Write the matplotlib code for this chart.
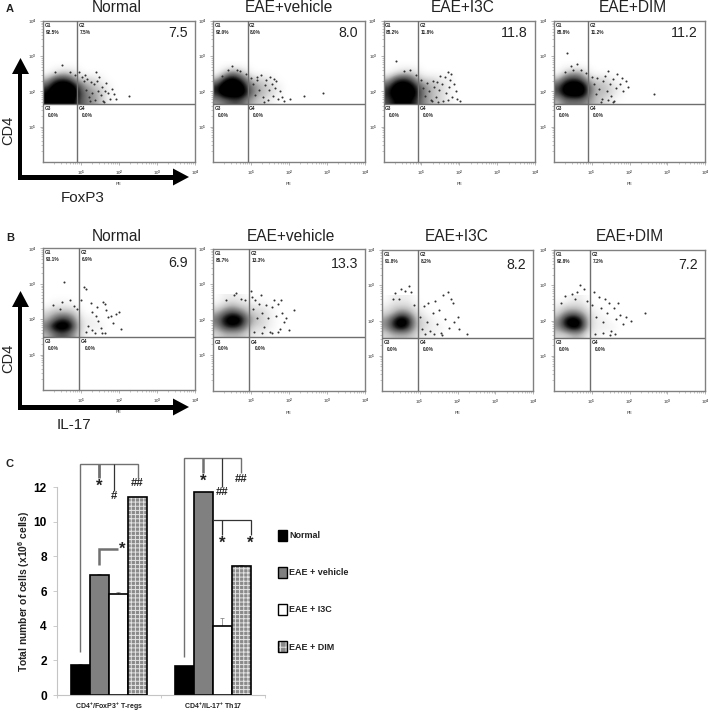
import matplotlib
matplotlib.use("Agg")
import matplotlib.pyplot as plt
from matplotlib.patches import Patch, Polygon, Rectangle
from matplotlib.legend_handler import HandlerTuple

plt.rcParams['font.family'] = ['Liberation Sans', 'DejaVu Sans']
plt.rcParams['mathtext.fontset'] = 'custom'
plt.rcParams['mathtext.bf'] = 'Liberation Sans:bold'
plt.rcParams['mathtext.rm'] = 'Liberation Sans:bold'
plt.rcParams['mathtext.default'] = 'bf'
plt.rcParams['hatch.linewidth'] = 0.7

W, H = 709, 712

# ---------- flow cytometry data ----------
panel_titles = ['Normal', 'EAE+vehicle', 'EAE+I3C', 'EAE+DIM']
a_big = ['7.5', '8.0', '11.8', '11.2']
a_g1 = ['92.5%', '92.0%', '88.2%', '88.8%']
a_g2 = ['7.5%', '8.0%', '11.8%', '11.2%']
b_big = ['6.9', '13.3', '8.2', '7.2']
b_g1 = ['93.1%', '86.7%', '91.8%', '92.8%']
b_g2 = ['6.9%', '13.3%', '8.2%', '7.2%']

# Darkness (0-10); rows bottom to top, columns 0.2 decade wide
a_normal_density = [[8, 9, 10, 9, 7, 5, 4, 3, 1, 0],
                    [8, 10, 10, 10, 8, 5, 4, 3, 1, 0],
                    [6, 9, 10, 10, 7, 4, 3, 2, 1, 0],
                    [3, 6, 7, 6, 3, 2, 2, 1, 0, 0],
                    [0, 1, 2, 2, 1, 0, 0, 0, 0, 0],
                    [0, 0, 0, 0, 0, 0, 0, 0, 0, 0]]
a_vehicle_density = [[4, 5, 6, 6, 4, 3, 2, 1, 0, 0],
                     [7, 10, 10, 10, 7, 4, 3, 2, 1, 0],
                     [7, 10, 10, 10, 6, 4, 3, 2, 1, 0],
                     [3, 7, 9, 7, 4, 2, 2, 1, 0, 0],
                     [0, 2, 4, 3, 1, 0, 0, 0, 0, 0],
                     [0, 0, 0, 0, 0, 0, 0, 0, 0, 0]]
a_i3c_density = [[6, 8, 9, 8, 6, 4, 3, 2, 1, 0],
                 [7, 10, 10, 10, 7, 4, 3, 2, 1, 0],
                 [6, 9, 10, 9, 6, 4, 3, 2, 1, 0],
                 [3, 6, 7, 6, 3, 2, 2, 1, 1, 0],
                 [0, 1, 2, 2, 1, 0, 0, 0, 0, 0],
                 [0, 0, 0, 0, 0, 0, 0, 0, 0, 0]]
a_dim_density = [[3, 5, 5, 5, 4, 3, 2, 1, 0, 0],
                 [6, 9, 10, 10, 6, 3, 3, 2, 1, 0],
                 [6, 9, 10, 10, 6, 3, 3, 2, 1, 0],
                 [3, 6, 7, 6, 3, 2, 2, 1, 0, 0],
                 [0, 2, 3, 3, 1, 0, 0, 0, 0, 0],
                 [0, 0, 0, 0, 0, 0, 0, 0, 0, 0]]
b_normal_density = [[3, 5, 6, 5, 3, 1, 0, 0, 0, 0],
                    [5, 9, 10, 9, 4, 1, 1, 1, 0, 0],
                    [3, 5, 7, 6, 3, 1, 1, 0, 0, 0],
                    [2, 3, 3, 3, 2, 0, 0, 0, 0, 0],
                    [0, 1, 1, 1, 0, 0, 0, 0, 0, 0],
                    [0, 0, 0, 0, 0, 0, 0, 0, 0, 0]]
b_vehicle_density = [[2, 3, 3, 3, 2, 1, 1, 0, 0, 0],
                     [4, 7, 8, 7, 4, 2, 2, 1, 0, 0],
                     [5, 8, 10, 9, 5, 3, 2, 1, 0, 0],
                     [3, 5, 6, 5, 3, 2, 2, 1, 0, 0],
                     [1, 2, 3, 2, 2, 1, 1, 0, 0, 0],
                     [0, 1, 1, 1, 0, 0, 0, 0, 0, 0]]
b_i3c_density = [[2, 3, 3, 3, 2, 1, 1, 0, 0, 0],
                 [4, 7, 9, 7, 3, 2, 1, 1, 0, 0],
                 [4, 7, 10, 8, 3, 2, 1, 0, 0, 0],
                 [2, 3, 5, 4, 2, 1, 0, 0, 0, 0],
                 [1, 2, 2, 2, 1, 0, 0, 0, 0, 0],
                 [0, 1, 1, 1, 0, 0, 0, 0, 0, 0]]
b_dim_density = [[2, 2, 3, 3, 1, 1, 0, 0, 0, 0],
                 [4, 7, 9, 8, 3, 1, 1, 1, 0, 0],
                 [4, 8, 10, 8, 3, 1, 1, 0, 0, 0],
                 [2, 4, 5, 4, 2, 1, 0, 0, 0, 0],
                 [1, 2, 2, 2, 1, 0, 0, 0, 0, 0],
                 [0, 0, 1, 1, 0, 0, 0, 0, 0, 0]]

# Individually visible events (x, y in log10 decades)
a_normal_x = [1.02, 1.08, 1.12, 1.17, 1.21, 1.26, 1.3, 1.33, 1.37, 1.41, 1.44, 1.47, 1.52, 1.55, 1.58, 1.62, 1.66, 1.71, 1.76, 1.82, 1.88, 1.93, 2.26, 0.95, 0.5, 0.72, 0.32, 0.84, 1.39, 1.6, 1.1, 1.23]
a_normal_y = [2.42, 2.3, 2.05, 2.35, 1.85, 2.28, 1.95, 2.2, 1.76, 2.3, 2.02, 2.4, 1.9, 2.12, 1.72, 2.02, 2.25, 1.95, 1.8, 2.08, 1.92, 1.78, 1.87, 2.55, 2.75, 2.55, 2.55, 2.46, 2.55, 1.7, 2.48, 1.72]
a_vehicle_x = [1.0, 1.06, 1.11, 1.16, 1.22, 1.27, 1.31, 1.36, 1.4, 1.44, 1.48, 1.51, 1.55, 1.58, 1.62, 1.66, 1.7, 1.76, 1.82, 1.87, 2.02, 2.4, 2.9, 0.5, 0.62, 0.4, 0.72, 0.88, 1.15, 0.25, 1.34, 1.6]
a_vehicle_y = [2.38, 2.2, 1.9, 2.33, 2.05, 2.48, 1.85, 2.18, 2.32, 1.75, 2.03, 2.4, 2.2, 1.88, 2.1, 2.3, 1.78, 2.0, 1.85, 1.72, 1.8, 1.88, 1.95, 2.72, 2.62, 2.6, 2.58, 2.5, 2.42, 2.45, 1.7, 2.36]
a_i3c_x = [1.0, 1.05, 1.1, 1.15, 1.2, 1.25, 1.3, 1.34, 1.38, 1.42, 1.46, 1.5, 1.55, 1.58, 1.62, 1.66, 1.7, 1.74, 1.78, 1.81, 1.86, 1.92, 1.95, 2.02, 0.33, 0.55, 0.7, 0.85, 1.28, 1.44, 1.69, 1.75]
a_i3c_y = [2.32, 2.1, 1.88, 2.25, 2.02, 1.76, 2.3, 2.12, 1.84, 2.28, 2.05, 2.45, 2.2, 1.74, 2.42, 1.96, 2.55, 2.14, 2.5, 1.84, 2.22, 2.02, 1.8, 1.72, 2.86, 2.58, 2.6, 2.46, 1.72, 1.7, 1.76, 2.32]
a_dim_x = [1.0, 1.05, 1.1, 1.15, 1.2, 1.26, 1.3, 1.35, 1.4, 1.44, 1.48, 1.52, 1.56, 1.6, 1.64, 1.68, 1.74, 1.79, 1.84, 1.9, 1.95, 2.66, 0.45, 0.62, 0.72, 0.5, 0.3, 0.85, 1.25, 1.42, 1.56, 0.35]
a_dim_y = [2.42, 2.2, 1.92, 2.38, 2.08, 1.78, 2.3, 2.45, 2.02, 2.58, 2.2, 1.86, 2.36, 1.72, 2.1, 2.5, 2.2, 2.38, 2.02, 2.3, 2.14, 1.94, 2.72, 2.78, 2.62, 2.6, 2.55, 2.52, 1.7, 1.75, 1.7, 3.1]
b_normal_x = [1.0, 1.08, 1.12, 1.18, 1.25, 1.3, 1.36, 1.42, 1.46, 1.52, 1.58, 1.62, 1.66, 1.72, 1.78, 1.84, 1.92, 2.05, 2.0, 0.55, 0.25, 0.5, 0.7, 0.82, 0.9, 0.45, 1.12, 1.28, 1.55, 1.64, 1.4]
b_normal_y = [2.55, 2.9, 2.85, 1.8, 2.45, 2.2, 1.6, 2.35, 1.95, 1.75, 2.5, 2.42, 2.25, 2.05, 2.1, 1.9, 2.15, 1.72, 2.2, 3.05, 2.4, 2.5, 2.55, 2.38, 2.3, 2.3, 1.65, 1.7, 1.62, 1.6, 2.1]
b_vehicle_x = [1.0, 1.05, 1.1, 1.15, 1.2, 1.25, 1.3, 1.35, 1.4, 1.45, 1.5, 1.55, 1.6, 1.65, 1.7, 1.75, 1.78, 1.82, 1.86, 1.92, 2.0, 2.12, 0.35, 0.55, 0.6, 0.75, 0.85, 1.02, 1.72, 1.3, 1.55, 1.08]
b_vehicle_y = [2.82, 2.3, 2.55, 2.05, 2.45, 2.7, 2.2, 1.8, 2.42, 2.05, 1.65, 2.35, 2.55, 2.1, 2.45, 1.75, 2.55, 2.2, 1.95, 2.05, 1.72, 2.28, 2.55, 2.7, 2.75, 2.6, 2.55, 2.65, 1.65, 1.62, 1.62, 1.65]
b_i3c_x = [1.0, 1.05, 1.1, 1.18, 1.22, 1.28, 1.34, 1.4, 1.46, 1.5, 1.56, 1.62, 1.68, 1.74, 1.78, 1.84, 1.88, 1.92, 2.0, 2.05, 2.25, 0.35, 0.5, 0.62, 0.72, 0.76, 0.3, 0.45, 0.85, 1.15, 1.38, 1.58]
b_i3c_y = [2.1, 1.75, 2.4, 1.95, 2.5, 1.7, 2.2, 2.55, 1.9, 2.3, 1.65, 2.72, 2.05, 2.8, 1.8, 2.6, 2.5, 1.95, 2.1, 1.75, 1.62, 2.78, 2.9, 2.85, 2.98, 2.8, 2.6, 2.62, 2.45, 1.62, 1.62, 1.6]
b_dim_x = [1.0, 1.05, 1.12, 1.18, 1.25, 1.3, 1.35, 1.4, 1.46, 1.52, 1.58, 1.64, 1.7, 1.76, 1.84, 1.92, 2.05, 2.4, 0.7, 0.8, 0.62, 0.48, 0.3, 0.55, 0.88, 1.08, 1.3, 1.48, 0.18, 1.62]
b_dim_y = [2.45, 2.8, 2.1, 2.68, 2.35, 1.95, 2.6, 2.2, 2.5, 1.7, 2.35, 2.05, 2.5, 2.15, 1.9, 2.1, 2.0, 2.2, 3.0, 2.9, 2.8, 2.75, 2.7, 2.62, 2.55, 1.62, 1.65, 1.6, 2.5, 1.62]

# Pixel boxes (left, top, right, bottom) and gates
a_boxes = [(43, 21, 195, 162), (213, 21, 365, 162), (383.5, 21, 535, 162), (554, 21, 705, 162)]
b_boxes = [(43, 248.5, 195, 390), (213, 249, 365, 390.5), (382, 250, 533, 391), (554, 250, 705, 391)]
a_vline = [0.895, 0.91, 0.91, 0.895]
b_vline = [0.96, 0.95, 0.95, 0.95]
a_hline = [1.645] * 4
b_hline = [1.5] * 4
a_title_x = [117, 289, 463, 633]
b_title_x = [117, 291, 457, 630]

a_density = [a_normal_density, a_vehicle_density, a_i3c_density, a_dim_density]
b_density = [b_normal_density, b_vehicle_density, b_i3c_density, b_dim_density]
a_dots = [(a_normal_x, a_normal_y), (a_vehicle_x, a_vehicle_y), (a_i3c_x, a_i3c_y), (a_dim_x, a_dim_y)]
b_dots = [(b_normal_x, b_normal_y), (b_vehicle_x, b_vehicle_y), (b_i3c_x, b_i3c_y), (b_dim_x, b_dim_y)]

# ---------- bar chart data ----------
groups = ['CD4$^{+}$/FoxP3$^{+}$ T-regs', 'CD4$^{+}$/IL-17$^{+}$ Th17']
series = ['Normal', 'EAE + vehicle', 'EAE + I3C', 'EAE + DIM']
normal = [1.75, 1.65]
vehicle = [6.9, 11.7]
i3c = [5.85, 4.0]
dim = [11.4, 7.45]
normal_err = [0.03, 0.04]
vehicle_err = [0.08, 0.04]
i3c_err = [0.08, 0.45]
dim_err = [0.02, 0.05]

fig = plt.figure(figsize=(W / 100, H / 100), dpi=100, facecolor='white')


def px_axes(box, **kw):
    l, t, r, b = box
    return fig.add_axes([l / W, 1 - b / H, (r - l) / W, (b - t) / H], **kw)


GREY = '#6e6e6e'
TICK = '#9a9a9a'
minor = [k + m for k in range(4) for m in (0.301, 0.477, 0.602, 0.699, 0.778, 0.845, 0.903, 0.954)]


def flow_panel(box, density, dots, vline, hline, g1, g2, big, big_y, vmax, ylab):
    ax = px_axes(box)
    ax.imshow(density, extent=(0, 2, hline, hline + 1.2), origin='lower', cmap='Greys',
              vmin=0, vmax=vmax, aspect='auto', interpolation='bicubic', zorder=1)
    ax.set_xlim(0, 4)
    ax.set_ylim(0, 4)
    ax.scatter(dots[0], dots[1], s=2.2, c='#333333', linewidths=0, zorder=2)
    ax.axvline(vline, color=GREY, lw=1.0, zorder=3)
    ax.axhline(hline, color=GREY, lw=1.0, zorder=3)
    for s in ax.spines.values():
        s.set_color('#808080')
        s.set_linewidth(1.0)
    ax.set_xticks([1, 2, 3, 4], ['10$^{1}$', '10$^{2}$', '10$^{3}$', '10$^{4}$'])
    ax.set_yticks([1, 2, 3, 4], ['10$^{1}$', '10$^{2}$', '10$^{3}$', '10$^{4}$'])
    ax.set_xticks(minor, minor=True)
    ax.set_yticks(minor, minor=True)
    ax.tick_params(which='major', length=2, width=0.5, color=TICK, labelsize=3.2,
                   pad=2.5, labelcolor='#333333')
    ax.tick_params(which='minor', length=1.2, width=0.4, color=TICK)
    ax.set_xlabel('PE', fontsize=3.2, labelpad=3.5, color='#333333')
    if ylab:
        ax.set_ylabel('FITC', fontsize=3.2, labelpad=3, color='#333333')
    f = dict(fontsize=3.4, color='#222222', va='center', fontweight='bold', zorder=4)
    for xt, t1, t2 in ((0.04, 'G1', g1), (vline + 0.04, 'G2', g2)):
        ax.text(xt, 3.88, t1, **f)
        ax.text(xt + 0.03, 3.68, t2, **f)
    for xt, t1 in ((0.04, 'G3'), (vline + 0.04, 'G4')):
        ax.text(xt, hline - 0.13, t1, **f)
        ax.text(xt + 0.1, hline - 0.32, '0.0%', **f)
    ax.text(0.954, big_y, big, transform=ax.transAxes, ha='right', va='center',
            fontsize=10.2, color='#222222')
    return ax


for i in range(4):
    flow_panel(a_boxes[i], a_density[i], a_dots[i], a_vline[i], a_hline[i], a_g1[i], a_g2[i], a_big[i], 0.912, 8, i == 0)
    flow_panel(b_boxes[i], b_density[i], b_dots[i], b_vline[i], b_hline[i], b_g1[i], b_g2[i], b_big[i], 0.897, 8, i == 0)

# ---------- bar chart ----------
bax = px_axes((56.5, 487, 265, 695))
bax.set_xlim(-0.5, 1.5)
bax.set_ylim(0, 12)
w = 0.1825
xs = [0, 1]
offs = [-1.5 * w, -0.5 * w, 0.5 * w, 1.5 * w]
pos = [[x + o for x in xs] for o in offs]
bax.bar(pos[0], normal, w, color='black', edgecolor='black', lw=1.2, zorder=2)
bax.bar(pos[1], vehicle, w, color='#808080', edgecolor='black', lw=1.2, zorder=2)
bax.bar(pos[2], i3c, w, color='white', edgecolor='black', lw=1.2, zorder=2)
bax.bar(pos[3], dim, w, color='#8a8a8a', edgecolor='#e4e4e4', lw=0, hatch='++++', zorder=2)
bax.bar(pos[3], dim, w, fill=False, edgecolor='black', lw=1.2, zorder=3)
for p, v, e in zip(pos, (normal, vehicle, i3c, dim), (normal_err, vehicle_err, i3c_err, dim_err)):
    bax.errorbar(p, v, yerr=[[0, 0], e], fmt='none', ecolor='#777777', elinewidth=0.5,
                 capsize=1.3, capthick=0.5, zorder=1)
for s in ('top', 'right'):
    bax.spines[s].set_visible(False)
for s in ('left', 'bottom'):
    bax.spines[s].set_color('#c4c4c4')
    bax.spines[s].set_linewidth(0.8)
bax.set_yticks([0, 2, 4, 6, 8, 10, 12])
bax.set_xticks(xs, groups)
bax.set_xticks([-0.5, 0.5, 1.5], minor=True)
bax.tick_params(axis='y', labelsize=8.6, length=3, width=0.6, color='#c4c4c4', pad=4)
bax.tick_params(axis='x', which='major', length=0, labelsize=5.0, pad=4, labelcolor='#222222')
bax.tick_params(axis='x', which='minor', length=2, width=0.6, color='#c4c4c4')
for lab in bax.get_yticklabels():
    lab.set_fontweight('bold')
for lab in bax.get_xticklabels():
    lab.set_fontweight('bold')
bax.set_ylabel('Total number of cells (x10$^{6}$ cells)', fontsize=7.4, fontweight='bold',
               labelpad=1, color='#222222')

swatch = (Patch(facecolor='#8a8a8a', edgecolor='#e4e4e4', hatch='+++', lw=0),
          Patch(fill=False, edgecolor='black', lw=1.0))
leg = bax.legend([Patch(facecolor='black', edgecolor='black'),
                  Patch(facecolor='#808080', edgecolor='black', lw=1.0),
                  Patch(facecolor='white', edgecolor='black', lw=1.0),
                  swatch], series,
                 handler_map={tuple: HandlerTuple(ndivide=1, pad=0)},
                 loc='center left', bbox_to_anchor=((277.5 - 56.5) / 208.5, (695 - 591) / 208),
                 frameon=False, handlelength=1.1, handleheight=1.55,
                 handletextpad=0.2, labelspacing=2.85, borderpad=0, borderaxespad=0,
                 prop={'weight': 'bold', 'size': 6.5})
for t in leg.get_texts():
    t.set_color('#222222')

# ---------- overlay: arrows, labels and brackets in pixel space ----------
ov = fig.add_axes([0, 0, 1, 1], zorder=10)
ov.set_xlim(0, W)
ov.set_ylim(H, 0)
ov.axis('off')
ov.patch.set_alpha(0)


def axes_arrow(top, corner_y, tip_x):
    ov.add_patch(Rectangle((18, top + 14), 4, corner_y - top - 12, color='black', lw=0))
    ov.add_patch(Rectangle((18, corner_y - 2.5), tip_x - 32, 5, color='black', lw=0))
    ov.add_patch(Polygon([(20.5, top), (12, top + 16), (29, top + 16)], color='black', lw=0))
    ov.add_patch(Polygon([(tip_x, corner_y), (tip_x - 16, corner_y - 8.5), (tip_x - 16, corner_y + 8.5)],
                         color='black', lw=0))


axes_arrow(58, 177, 189)
axes_arrow(291, 407, 189)
ov.text(8, 130, 'CD4', rotation=90, ha='center', va='center', fontsize=10.5, color='#222222')
ov.text(8, 358, 'CD4', rotation=90, ha='center', va='center', fontsize=10.5, color='#222222')
ov.text(83, 198, 'FoxP3', ha='center', va='center', fontsize=11, color='#222222')
ov.text(74, 425, 'IL-17', ha='center', va='center', fontsize=11, color='#222222')
for s, y in (('A', 9), ('B', 238), ('C', 464)):
    ov.text(10, y, s, ha='center', va='center', fontsize=8, fontweight='bold', color='#222222')
for i in range(4):
    ov.text(a_title_x[i], 7.5, panel_titles[i], ha='center', va='center', fontsize=11.2, color='#222222')
    ov.text(b_title_x[i], 236.5, panel_titles[i], ha='center', va='center', fontsize=11.2, color='#222222')

LG = '#707070'
DK = '#333333'


def seg(xs_, ys_, c=DK, lw=0.9):
    ov.plot(xs_, ys_, color=c, lw=lw, solid_capstyle='butt', solid_joinstyle='miter')


seg([80, 80, 137.7, 137.7], [652, 464, 464, 478], LG, 1.0)
seg([99, 99], [464, 478], LG, 2.0)
seg([113.7, 113.7], [464, 490.7], DK)
seg([99, 99, 118], [565, 549, 549], LG, 1.8)
seg([184, 184, 240.7, 240.7], [657, 458, 458, 473], LG, 1.0)
seg([202.7, 202.7], [458, 473], LG, 1.8)
seg([222, 222], [458, 487], DK)
seg([222, 222], [535, 520], DK)
seg([213, 250.7, 250.7], [520, 520, 535], DK)


def mark(x, y, s, size):
    ov.text(x, y, s, ha='center', va='center', fontsize=size, color='#222222', fontweight='bold')


for x, y in ((99, 486), (122, 549), (203, 481), (222.5, 543), (250.5, 543)):
    mark(x, y, '*', 12)
mark(113.5, 496, '#', 8.2)
mark(137, 483, '##', 8.2)
mark(222, 492, '##', 8.2)
mark(240.7, 479, '##', 8.2)

fig.savefig('out.png', dpi=100)
